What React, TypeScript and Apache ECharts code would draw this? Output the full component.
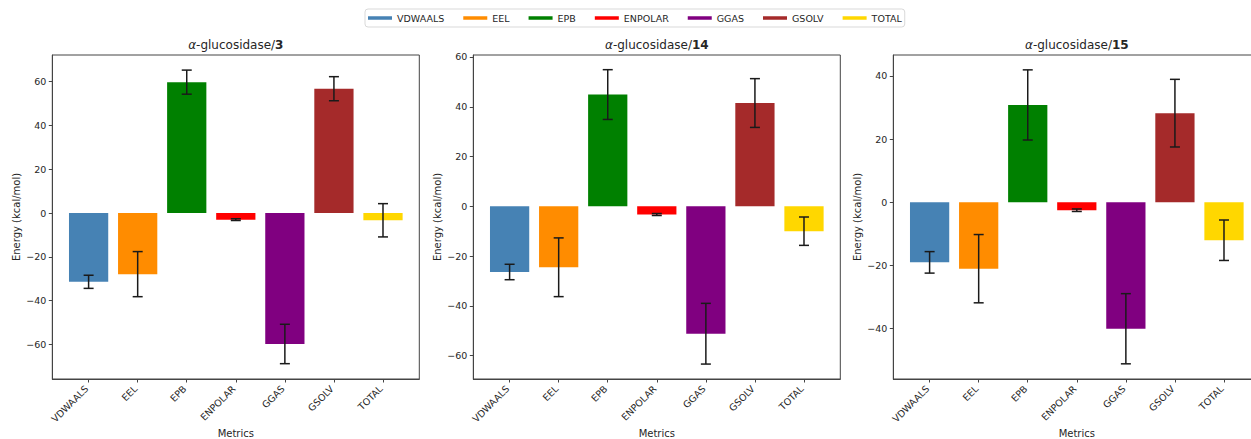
import React, { useEffect, useRef } from 'react';
import * as echarts from 'echarts';

const metrics = ['VDWAALS', 'EEL', 'EPB', 'ENPOLAR', 'GGAS', 'GSOLV', 'TOTAL'];
const colors = ['#4682B4', '#FF8C00', '#008000', '#FF0000', '#800080', '#A52A2A', '#FFD700'];
const compounds = ['3', '14', '15'];

const means3 = [-31.4, -27.9, 59.8, -3.0, -59.8, 56.8, -3.3];
const err3 = [3.0, 10.3, 5.5, 0.4, 9.0, 5.5, 7.6];
const means14 = [-26.4, -24.5, 44.9, -3.3, -51.2, 41.5, -10.0];
const err14 = [3.1, 11.8, 10.0, 0.4, 12.2, 9.8, 5.7];
const means15 = [-19.0, -21.0, 30.8, -2.5, -40.0, 28.2, -12.0];
const err15 = [3.4, 10.8, 11.1, 0.4, 11.1, 10.7, 6.4];

const yMin = [-75.8, -69.4, -55.9];
const yMax = [72.2, 60.8, 46.6];
const yTicks = [
  [-60, -40, -20, 0, 20, 40, 60],
  [-60, -40, -20, 0, 20, 40, 60],
  [-40, -20, 0, 20, 40],
];

const allMeans = [means3, means14, means15];
const allErrs = [err3, err14, err15];

const FONT = 'DejaVu Sans';
const TXT = '#262626';
const SPINE = '#444';

export default function App() {
  const ref = useRef<HTMLDivElement>(null);
  useEffect(() => {
    document.body.style.margin = '0';
    if (!ref.current) return;
    const chart = echarts.init(ref.current, null, { renderer: 'svg' });
    const lefts = [52.3, 473.3, 893.3];
    const gridW = 367;
    const gridTop = 55;
    const gridH = 324;

    const grids: any[] = [];
    const xAxes: any[] = [];
    const yAxes: any[] = [];
    const series: any[] = [];
    const graphics: any[] = [];

    lefts.forEach((left, p) => {
      grids.push({
        left, top: gridTop, width: gridW, height: gridH,
        outerBoundsMode: 'none', containLabel: false,
        show: true, borderColor: SPINE, borderWidth: 1, backgroundColor: 'transparent',
      });
      xAxes.push({
        type: 'value', gridIndex: p, min: -0.74, max: 6.74,
        axisLine: { onZero: false, lineStyle: { color: SPINE, width: 1 } },
        axisTick: { show: true, length: 3.5, customValues: [0, 1, 2, 3, 4, 5, 6], lineStyle: { color: SPINE } },
        axisLabel: {
          customValues: [0, 1, 2, 3, 4, 5, 6], rotate: 45, margin: 6,
          padding: [0, 3, 0, 0],
          fontFamily: FONT, fontSize: 9.5, color: TXT,
          formatter: (v: number) => metrics[Math.round(v)] ?? '',
        },
        splitLine: { show: false },
      });
      yAxes.push({
        type: 'value', gridIndex: p, min: yMin[p], max: yMax[p],
        name: 'Energy (kcal/mol)', nameLocation: 'middle', nameGap: 31, nameRotate: 90,
        nameTextStyle: { fontFamily: FONT, fontSize: 10, color: TXT },
        axisLine: { show: true, onZero: false, lineStyle: { color: SPINE, width: 1 } },
        axisTick: { show: true, length: 3.5, customValues: yTicks[p], lineStyle: { color: SPINE } },
        axisLabel: {
          customValues: yTicks[p], margin: 6,
          fontFamily: FONT, fontSize: 9.5, color: TXT,
          formatter: (v: number) => String(v).replace('-', '\u2212'),
        },
        splitLine: { show: false },
      });

      metrics.forEach((m, i) => {
        series.push({
          type: 'custom', name: m, xAxisIndex: p, yAxisIndex: p,
          itemStyle: { color: colors[i] },
          encode: { x: 0, y: 1 },
          data: [[i, allMeans[p][i]]],
          z: 2,
          renderItem: (_params: any, api: any) => {
            const x = api.value(0);
            const y = api.value(1);
            const p0 = api.coord([x - 0.4, 0]);
            const p1 = api.coord([x + 0.4, y]);
            return {
              type: 'rect',
              shape: {
                x: p0[0], y: Math.min(p0[1], p1[1]),
                width: p1[0] - p0[0], height: Math.abs(p1[1] - p0[1]),
              },
              style: { fill: api.visual('color') },
            };
          },
        });
      });

      series.push({
        type: 'custom', name: 'err' + p, xAxisIndex: p, yAxisIndex: p,
        encode: { x: 0, y: 1 },
        data: metrics.map((_, i) => [i, allMeans[p][i], allErrs[p][i]]),
        z: 5,
        renderItem: (_params: any, api: any) => {
          const x = api.value(0);
          const v = api.value(1);
          const e = api.value(2);
          const t = api.coord([x, v + e]);
          const b = api.coord([x, v - e]);
          const cw = 5;
          const st = { stroke: '#1a1a1a', lineWidth: 1.5 };
          return {
            type: 'group',
            children: [
              { type: 'line', shape: { x1: t[0], y1: t[1], x2: b[0], y2: b[1] }, style: st },
              { type: 'line', shape: { x1: t[0] - cw, y1: t[1], x2: t[0] + cw, y2: t[1] }, style: st },
              { type: 'line', shape: { x1: b[0] - cw, y1: b[1], x2: b[0] + cw, y2: b[1] }, style: st },
            ],
          };
        },
      });

      graphics.push({
        type: 'text',
        x: left + gridW / 2, y: 44.7,
        style: {
          text: '{i|\u03b1}{n|-glucosidase/}{b|' + compounds[p] + '}',
          align: 'center', verticalAlign: 'middle',
          rich: {
            i: { fontFamily: FONT, fontSize: 12, fontStyle: 'italic', fill: TXT },
            n: { fontFamily: FONT, fontSize: 12, fill: TXT },
            b: { fontFamily: FONT, fontSize: 12, fontWeight: 'bold', fill: TXT },
          },
        },
      });
      graphics.push({
        type: 'text',
        x: left + gridW / 2, y: 433,
        style: {
          text: 'Metrics', align: 'center', verticalAlign: 'middle',
          fontFamily: FONT, fontSize: 10, fill: TXT,
        },
      });
    });

    chart.setOption({
      animation: false,
      backgroundColor: '#fff',
      textStyle: { fontFamily: FONT },
      legend: {
        data: metrics, left: 365, top: 9, icon: 'rect',
        itemWidth: 24, itemHeight: 3.5, itemGap: 19,
        padding: [4, 3], borderColor: '#d9d9d9', borderWidth: 1, borderRadius: 3,
        selectedMode: false,
        textStyle: { fontFamily: FONT, fontSize: 9.5, color: TXT },
      },
      grid: grids,
      xAxis: xAxes,
      yAxis: yAxes,
      series,
      graphic: graphics,
    });
    return () => chart.dispose();
  }, []);
  return <div ref={ref} style={{ width: 1251, height: 439 }} />;
}
